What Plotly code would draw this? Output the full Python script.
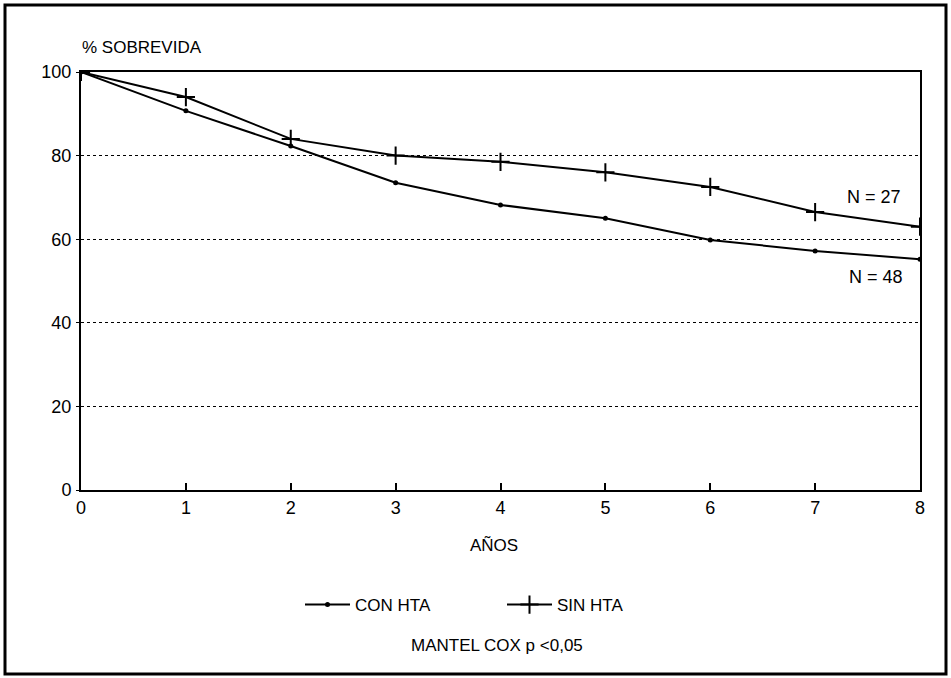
import plotly.graph_objects as go

years = [0, 1, 2, 3, 4, 5, 6, 7, 8]
con_hta = [100, 90.7, 82.3, 73.5, 68.2, 65.0, 59.8, 57.2, 55.2]
sin_hta = [100, 94.0, 84.0, 80.0, 78.5, 76.0, 72.5, 66.5, 63.0]
y_ticks = [0, 20, 40, 60, 80, 100]
x_ticks = [0, 1, 2, 3, 4, 5, 6, 7, 8]

FONT = "Liberation Sans Narrow, Liberation Sans, Arial Narrow, sans-serif"

W, H = 951, 678
L, R, T, B = 81, 31, 72, 188
pw, ph = W - L - R, H - T - B

def px(xp):
    return (xp - L) / pw

def py(yp):
    return (H - B - yp) / ph

fig = go.Figure()
fig.add_trace(go.Scatter(
    x=years, y=con_hta, name="CON HTA", mode="lines+markers",
    line=dict(color="black", width=2),
    marker=dict(symbol="circle", size=5, color="black"),
))
fig.add_trace(go.Scatter(
    x=years, y=sin_hta, name="SIN HTA", mode="lines+markers",
    line=dict(color="black", width=2),
    marker=dict(symbol="cross-thin", size=13, color="black",
                line=dict(color="black", width=2)),
))

fig.update_layout(
    width=W, height=H,
    margin=dict(l=L, r=R, t=T, b=B),
    paper_bgcolor="white", plot_bgcolor="white",
    font=dict(family=FONT, size=18, color="black"),
    showlegend=True,
    legend=dict(orientation="h", x=px(300), y=py(605), xanchor="left",
                yanchor="middle", entrywidth=142, entrywidthmode="pixels",
                itemwidth=45,
                font=dict(size=17, family=FONT), bgcolor="rgba(0,0,0,0)",
                traceorder="normal"),
    xaxis=dict(range=[0, 8], tickvals=x_ticks, ticks="inside", ticklen=7,
               tickwidth=2, tickcolor="black", showline=True, linecolor="black",
               linewidth=2, mirror=True, showgrid=False, zeroline=False,
               tickfont=dict(size=18), fixedrange=True),
    yaxis=dict(range=[0, 100], tickvals=y_ticks, ticks="outside", ticklen=3,
               tickwidth=1, tickcolor="black", showline=True, linecolor="black",
               linewidth=2, mirror=True, showgrid=True, gridcolor="black",
               gridwidth=1, griddash="dot", zeroline=False,
               tickfont=dict(size=18), ticklabelstandoff=1, fixedrange=True),
)

ann = dict(xref="paper", yref="paper", showarrow=False,
           font=dict(family=FONT, size=17, color="black"))
fig.add_annotation(text="% SOBREVIDA", x=px(80), y=py(47), xanchor="left", yanchor="middle", **ann)
fig.add_annotation(text="AÑOS", x=px(494), y=py(545), xanchor="center", yanchor="middle", **ann)
fig.add_annotation(text="MANTEL COX p <0,05", x=px(497), y=py(645), xanchor="center", yanchor="middle", **ann)
fig.add_annotation(text="N = 27", x=px(874), y=py(197), xanchor="center", yanchor="middle",
                   **{**ann, "font": dict(family=FONT, size=18, color="black")})
fig.add_annotation(text="N = 48", x=px(876), y=py(277), xanchor="center", yanchor="middle",
                   **{**ann, "font": dict(family=FONT, size=18, color="black")})

# outer frame
fig.add_shape(type="rect", xref="paper", yref="paper",
              x0=px(5), x1=px(946), y0=py(674), y1=py(5),
              line=dict(color="black", width=3), layer="below")

fig.write_html("out.html", config={"displayModeBar": False},
               post_script="document.body.style.margin='0';document.body.style.overflow='hidden';")
